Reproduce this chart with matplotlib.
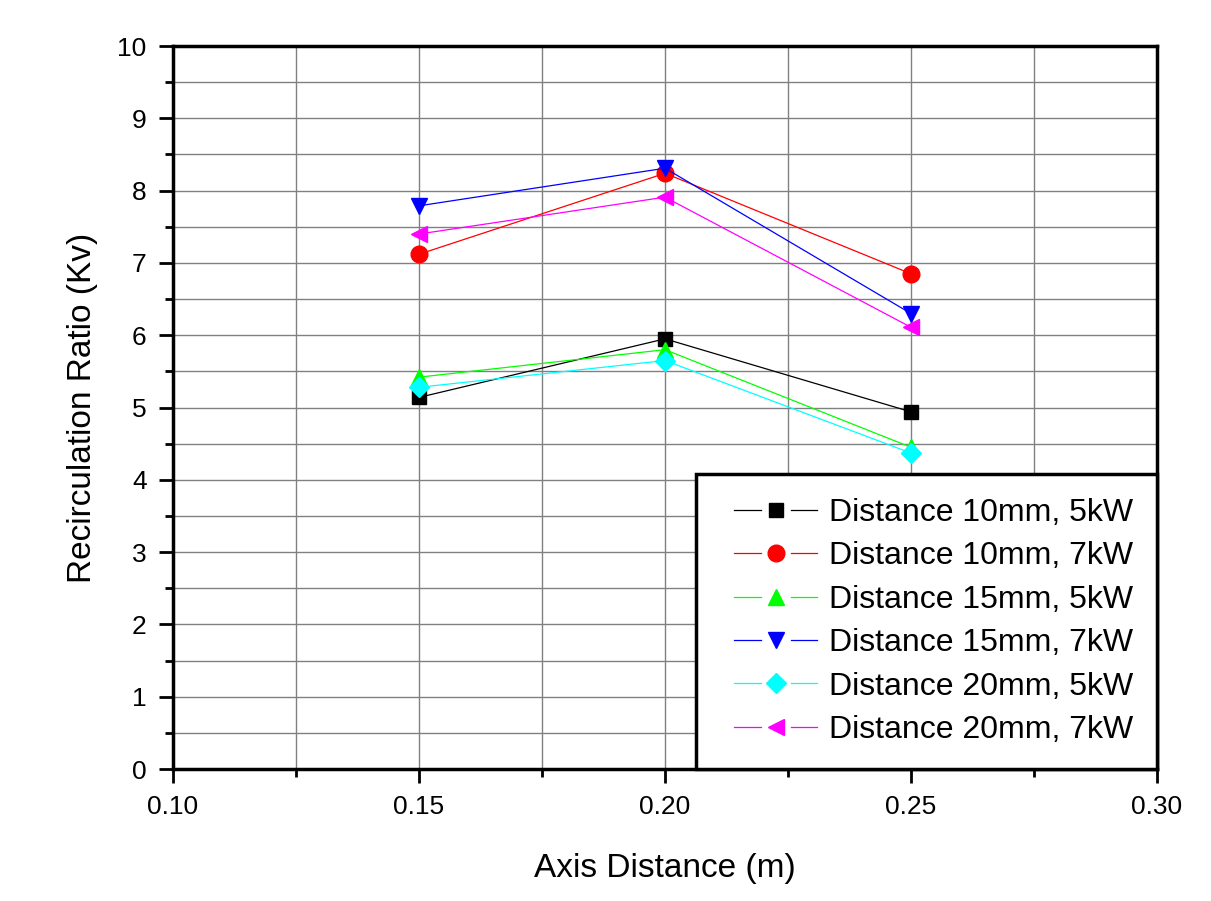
import matplotlib
matplotlib.use("Agg")
import matplotlib.pyplot as plt
from matplotlib.lines import Line2D
from matplotlib.legend_handler import HandlerLine2D
from matplotlib.ticker import MultipleLocator, FormatStrFormatter

plt.rcParams['font.family'] = ['Liberation Sans', 'DejaVu Sans']

x = [0.15, 0.20, 0.25]
d10_5kw = [5.14, 5.95, 4.94]
d10_7kw = [7.12, 8.24, 6.85]
d15_5kw = [5.42, 5.80, 4.45]
d15_7kw = [7.79, 8.31, 6.30]
d20_5kw = [5.28, 5.65, 4.37]
d20_7kw = [7.40, 7.91, 6.11]

labels = ["Distance 10mm, 5kW", "Distance 10mm, 7kW", "Distance 15mm, 5kW",
          "Distance 15mm, 7kW", "Distance 20mm, 5kW", "Distance 20mm, 7kW"]
series = [d10_5kw, d10_7kw, d15_5kw, d15_7kw, d20_5kw, d20_7kw]
colors = ["#000000", "#FF0000", "#00FF00", "#0000FF", "#00FFFF", "#FF00FF"]
markers = ["s", "o", "^", "v", "D", "<"]
msizes = [10, 12, 12, 12, 10, 12]


class GapHandler(HandlerLine2D):
    """Legend handle in Origin style: line - marker - line with gaps."""
    def create_artists(self, legend, orig_handle, xdescent, ydescent,
                       width, height, fontsize, trans):
        x0 = -xdescent + 0.14 * width
        x1 = width - xdescent - 0.02 * width
        xc = (x0 + x1) / 2
        yc = height / 2 - ydescent
        gap = 0.18 * (x1 - x0)
        col = orig_handle.get_color()
        lw = orig_handle.get_linewidth()
        l1 = Line2D([x0, xc - gap], [yc, yc], color=col, lw=lw)
        l2 = Line2D([xc + gap, x1], [yc, yc], color=col, lw=lw)
        mk = Line2D([xc], [yc], ls='none', marker=orig_handle.get_marker(),
                    markersize=orig_handle.get_markersize(),
                    markerfacecolor=orig_handle.get_markerfacecolor(),
                    markeredgecolor=orig_handle.get_markeredgecolor())
        for a in (l1, l2, mk):
            a.set_transform(trans)
        return [l1, l2, mk]


fig = plt.figure(figsize=(12.11, 9.01), dpi=100)
ax = fig.add_axes([0.1429, 0.1465, 0.8125, 0.8024])

for ys, lab, c, m, ms in zip(series, labels, colors, markers, msizes):
    ax.plot(x, ys, color=c, lw=0.9, marker=m, markersize=ms,
            markerfacecolor=c, markeredgecolor=c, label=lab)

ax.set_xlim(0.10, 0.30)
ax.set_ylim(0, 10)
ax.xaxis.set_major_locator(MultipleLocator(0.05))
ax.xaxis.set_minor_locator(MultipleLocator(0.025))
ax.yaxis.set_major_locator(MultipleLocator(1))
ax.yaxis.set_minor_locator(MultipleLocator(0.5))
ax.xaxis.set_major_formatter(FormatStrFormatter('%.2f'))

ax.grid(True, which='both', color='#808080', lw=1.0)
ax.set_axisbelow(True)

for sp in ax.spines.values():
    sp.set_linewidth(2.5)
    sp.set_color('black')

ax.tick_params(axis='both', which='major', direction='out', length=10, width=2,
               labelsize=19, pad=9)
ax.tick_params(axis='both', which='minor', direction='out', length=6, width=2)

ax.set_xlabel("Axis Distance (m)", fontsize=24, labelpad=24)
ax.set_ylabel("Recirculation Ratio (Kv)", fontsize=24, labelpad=14)

leg = ax.legend(loc='lower right', borderaxespad=0, fontsize=23, fancybox=False,
                edgecolor='black', framealpha=1, handlelength=3.1,
                borderpad=0.75, labelspacing=0.42, handletextpad=0.3,
                handler_map={Line2D: GapHandler()})
leg.get_frame().set_linewidth(2.5)

fig.savefig("out.png", dpi=100)
